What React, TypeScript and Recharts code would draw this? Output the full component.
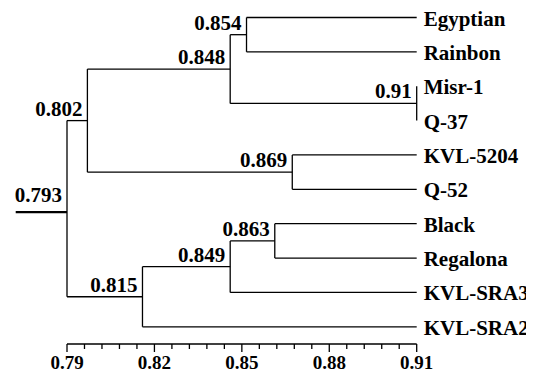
import React from 'react';
import { ComposedChart, Line, Scatter, XAxis, YAxis, ReferenceLine } from 'recharts';

// leaves, top to bottom
const leafNames = ['Egyptian', 'Rainbon', 'Misr-1', 'Q-37', 'KVL-5204', 'Q-52', 'Black', 'Regalona', 'KVL-SRA3', 'KVL-SRA2'];
const leafHeight = 0.91;

// cluster nodes: printed label, where the node sits on the axis, and its two children
// children refs: 'L3' = leaf 3, 'N2' = node 2
const nodeLabels = ['0.793', '0.802', '0.848', '0.854', '0.91', '0.869', '0.815', '0.849', '0.863'];
const nodeHeights = [0.79, 0.797, 0.846, 0.8516, 0.91, 0.8673, 0.8159, 0.846, 0.8613];
const nodeChildren = [
  ['N1', 'N6'],
  ['N2', 'N5'],
  ['N3', 'N4'],
  ['L0', 'L1'],
  ['L2', 'L3'],
  ['L4', 'L5'],
  ['N7', 'L9'],
  ['N8', 'L8'],
  ['L6', 'L7'],
];
const rootStub = [0.7724, 0.79];
const rootStubRow = 5.66;

const majorTicks = [0.79, 0.82, 0.85, 0.88, 0.91];
const minorTicks = [0.796, 0.802, 0.808, 0.814, 0.826, 0.832, 0.838, 0.844, 0.856, 0.862, 0.868, 0.874, 0.886, 0.892, 0.898, 0.904];

const labelStyle: React.CSSProperties = { fontFamily: 'Liberation Serif', fontWeight: 700, fontSize: 21 };
const tickStyle: React.CSSProperties = { fontFamily: 'Liberation Serif', fontWeight: 700, fontSize: 19 };

const rowOf = (ref: string): number => {
  if (ref[0] === 'L') return Number(ref.slice(1));
  const [a, b] = nodeChildren[Number(ref.slice(1))];
  return (rowOf(a) + rowOf(b)) / 2;
};
// the root's own row is only used for its stub and label
const nodeRow = (i: number): number => (i === 0 ? rootStubRow : rowOf('N' + i));
const heightOf = (ref: string): number => (ref[0] === 'L' ? leafHeight : nodeHeights[Number(ref.slice(1))]);

const links: { x: number; y: number }[][] = [];
nodeChildren.forEach(([a, b], i) => {
  const h = nodeHeights[i];
  links.push([{ x: h, y: rowOf(a) }, { x: h, y: rowOf(b) }]);
  [a, b].forEach((c) => {
    if (heightOf(c) !== h) links.push([{ x: h, y: rowOf(c) }, { x: heightOf(c), y: rowOf(c) }]);
  });
});

const nodePoints = nodeLabels.map((label, i) => ({ x: nodeHeights[i], y: nodeRow(i), label, idx: i }));
const leafPoints = leafNames.map((name, i) => ({ x: leafHeight, y: i, name }));
const allTicks = [...majorTicks, ...minorTicks].sort((a, b) => a - b);

const AxisTick = (props: any) => {
  const { x, y, payload } = props;
  const major = majorTicks.some((t) => Math.abs(t - payload.value) < 1e-6);
  return (
    <g>
      <line x1={x} y1={y} x2={x} y2={y + (major ? 8 : 5)} stroke="#000" strokeWidth={1.3} />
      {major && (
        <text x={x} y={y + 25} textAnchor="middle" style={tickStyle} fill="#000">
          {payload.value.toFixed(2)}
        </text>
      )}
    </g>
  );
};

const NodeLabel = (props: any) => {
  const { cx, cy, payload } = props;
  return (
    <text x={cx - 5} y={cy - (payload.idx === 0 ? 10 : 5)} textAnchor="end" style={labelStyle} fill="#000">
      {payload.label}
    </text>
  );
};

const LeafLabel = (props: any) => {
  const { cx, cy, payload } = props;
  return (
    <text x={cx + 7} y={cy + 8} textAnchor="start" style={labelStyle} fill="#000">
      {payload.name}
    </text>
  );
};

const App: React.FC = () => {
  return (
    <div style={{ margin: '-8px 0 0 -8px', width: 534, height: 374 }}>
      <ComposedChart width={534} height={374} margin={{ top: 17.5, right: 117.3, bottom: 0, left: 67 }}>
        <XAxis
          type="number"
          dataKey="x"
          domain={[0.79, 0.91]}
          ticks={allTicks}
          interval={0}
          height={30}
          tickSize={0}
          tickMargin={0}
          tickLine={false}
          axisLine={{ stroke: '#000', strokeWidth: 1.3 }}
          tick={<AxisTick />}
        />
        <YAxis type="number" dataKey="y" domain={[0, 9.5]} reversed hide />
        <ReferenceLine
          segment={[{ x: rootStub[0], y: rootStubRow }, { x: rootStub[1], y: rootStubRow }]}
          ifOverflow="visible"
          stroke="#000"
          strokeWidth={2.3}
        />
        {links.map((d, k) => (
          <Line
            key={k}
            data={d}
            dataKey="y"
            type="linear"
            stroke="#000"
            strokeWidth={1.3}
            dot={false}
            activeDot={false}
            isAnimationActive={false}
          />
        ))}
        <Scatter data={nodePoints} shape={<NodeLabel />} isAnimationActive={false} />
        <Scatter data={leafPoints} shape={<LeafLabel />} isAnimationActive={false} />
      </ComposedChart>
    </div>
  );
};

export default App;
